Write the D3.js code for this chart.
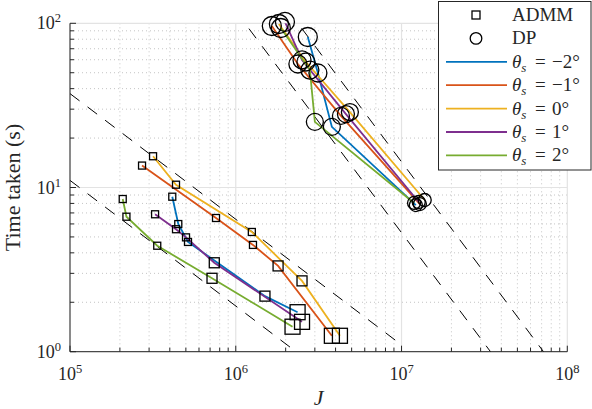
<!DOCTYPE html>
<html>
<head>
<meta charset="utf-8">
<script src="https://cdn.jsdelivr.net/npm/d3@7"></script>
<style>
  body { margin: 0; background: #fff; }
  text { font-family: "Liberation Serif", "DejaVu Serif", serif; fill: #262626; }
</style>
</head>
<body>
<svg width="592" height="409"></svg>
<script>
// ---- data ----
const thetaLabels = ["\u22122\u00b0", "\u22121\u00b0", "0\u00b0", "1\u00b0", "2\u00b0"];
const seriesColors = ["#0072BD", "#D95319", "#EDB120", "#7E2F8E", "#77AC30"];

// ADMM runs (squares), one row per theta
const admmJ = [
    [4.14e5, 4.50e5, 5.15e5, 1.50e6, 2.36e6],
    [2.72e5, 7.60e5, 1.27e6, 1.80e6, 3.80e6],
    [3.17e5, 4.36e5, 1.25e6, 2.51e6, 4.25e6],
    [3.26e5, 4.36e5, 5.01e5, 7.42e5, 2.51e6],
    [2.08e5, 2.19e5, 3.36e5, 7.19e5, 2.20e6]
];
const admmT = [
    [8.79, 5.99, 4.66, 2.18, 1.74],
    [13.6, 6.52, 4.47, 3.33, 1.25],
    [15.5, 10.4, 5.36, 2.70, 1.25],
    [6.87, 5.57, 4.97, 3.48, 1.52],
    [8.51, 6.64, 4.42, 2.80, 1.42]
];

// DP runs (circles)
const dpJ = [
    [2.72e6, 3.13e6, 3.80e6, 1.22e7],
    [1.65e6, 2.37e6, 4.31e6, 1.29e7],
    [1.82e6, 2.65e6, 4.88e6, 1.38e7],
    [1.98e6, 2.51e6, 4.62e6, 1.27e7],
    [1.87e6, 2.80e6, 3.00e6, 1.19e7]
];
const dpT = [
    [82.5, 49.8, 23.4, 7.82],
    [96.3, 56.5, 27.3, 7.93],
    [99.0, 58.1, 28.8, 8.39],
    [102, 59.8, 28.0, 8.16],
    [93.6, 51.9, 25.1, 8.05]
];

// dashed reference slopes (end points)
const refJ = [[1e5, 1e7], [1e5, 1e7], [1e6, 1e8], [1e6, 1e8]];
const refT = [[37.3, 1.10], [11.05, 0.326], [118.8, 0.237], [320.9, 0.640]];

const xTicks = [1e5, 1e6, 1e7, 1e8];
const yTicks = [1, 10, 100];

// marker sizes along each run
const admmSize = [7, 7, 7, 10, 15];
const dpRadius = [9.5, 9, 8.5, 6.5];

// ---- layout ----
const svg = d3.select("svg");
const pLeft = 70, pRight = 567.3, pTop = 23.3, pBottom = 351.7;

const x = d3.scaleLog().domain([1e5, 1e8]).range([pLeft, pRight]);
const y = d3.scaleLog().domain([1, 100]).range([pBottom, pTop]);

svg.append("defs").append("clipPath").attr("id", "plotClip")
    .append("rect")
    .attr("x", pLeft).attr("y", pTop)
    .attr("width", pRight - pLeft).attr("height", pBottom - pTop);

/* ----------- grid ----------- */
const minorX = [], minorY = [];
for (let e = 5; e < 8; e++) for (let k = 2; k <= 9; k++) minorX.push(k * Math.pow(10, e));
for (let e = 0; e < 2; e++) for (let k = 2; k <= 9; k++) minorY.push(k * Math.pow(10, e));

let grid = svg.append("g");
grid.selectAll("line.mx").data(minorX).enter().append("line")
    .attr("x1", d => x(d)).attr("x2", d => x(d))
    .attr("y1", pTop).attr("y2", pBottom)
    .attr("stroke", "#c4c4c4").attr("stroke-width", 1)
    .attr("stroke-dasharray", "1,3");
grid.selectAll("line.my").data(minorY).enter().append("line")
    .attr("y1", d => y(d)).attr("y2", d => y(d))
    .attr("x1", pLeft).attr("x2", pRight)
    .attr("stroke", "#c4c4c4").attr("stroke-width", 1)
    .attr("stroke-dasharray", "1,3");
grid.selectAll("line.gx").data(xTicks).enter().append("line")
    .attr("x1", d => x(d)).attr("x2", d => x(d))
    .attr("y1", pTop).attr("y2", pBottom)
    .attr("stroke", "#e3e3e3").attr("stroke-width", 1.2);
grid.selectAll("line.gy").data(yTicks).enter().append("line")
    .attr("y1", d => y(d)).attr("y2", d => y(d))
    .attr("x1", pLeft).attr("x2", pRight)
    .attr("stroke", "#e3e3e3").attr("stroke-width", 1.2);

/* ----------- dashed reference lines ----------- */
const plot = svg.append("g").attr("clip-path", "url(#plotClip)");

const line = d3.line().x(d => x(d[0])).y(d => y(d[1]));

plot.selectAll("path.ref").data(refJ.map((js, i) => js.map((j, k) => [j, refT[i][k]])))
    .enter().append("path")
    .attr("d", line)
    .attr("fill", "none")
    .attr("stroke", "#000")
    .attr("stroke-width", 1)
    .attr("stroke-dasharray", "12,10");

/* ----------- series lines ----------- */
const admmPts = admmJ.map((js, i) => js.map((j, k) => [j, admmT[i][k], k]));
const dpPts = dpJ.map((js, i) => js.map((j, k) => [j, dpT[i][k], k]));

plot.selectAll("path.admm").data(admmPts).enter().append("path")
    .attr("d", line)
    .attr("fill", "none")
    .attr("stroke", (d, i) => seriesColors[i])
    .attr("stroke-width", 1.8);

plot.selectAll("path.dp").data(dpPts).enter().append("path")
    .attr("d", line)
    .attr("fill", "none")
    .attr("stroke", (d, i) => seriesColors[i])
    .attr("stroke-width", 1.8);

/* ----------- markers ----------- */
plot.selectAll("rect.sq").data(admmPts.flat()).enter().append("rect")
    .attr("x", d => x(d[0]) - admmSize[d[2]] / 2)
    .attr("y", d => y(d[1]) - admmSize[d[2]] / 2)
    .attr("width", d => admmSize[d[2]])
    .attr("height", d => admmSize[d[2]])
    .attr("fill", "none")
    .attr("stroke", "#000")
    .attr("stroke-width", 1.3);

svg.selectAll("circle.dp").data(dpPts.flat()).enter().append("circle")
    .attr("cx", d => x(d[0]))
    .attr("cy", d => y(d[1]))
    .attr("r", d => dpRadius[d[2]])
    .attr("fill", "none")
    .attr("stroke", "#000")
    .attr("stroke-width", 1.3);

/* ----------- axes ----------- */
const ax = svg.append("g").attr("stroke", "#262626").attr("stroke-width", 1);
ax.append("line").attr("x1", pLeft).attr("x2", pLeft).attr("y1", pTop).attr("y2", pBottom);
ax.append("line").attr("x1", pLeft).attr("x2", pRight).attr("y1", pBottom).attr("y2", pBottom);

ax.selectAll("line.tx").data(xTicks.concat(minorX)).enter().append("line")
    .attr("x1", d => x(d)).attr("x2", d => x(d))
    .attr("y1", pBottom).attr("y2", d => pBottom - (xTicks.includes(d) ? 6 : 4));
ax.selectAll("line.ty").data(yTicks.concat(minorY)).enter().append("line")
    .attr("y1", d => y(d)).attr("y2", d => y(d))
    .attr("x1", pLeft).attr("x2", d => pLeft + (yTicks.includes(d) ? 6 : 4));

// tick labels as 10^n
const xl = svg.selectAll("text.xt").data(xTicks).enter().append("text")
    .attr("x", d => x(d))
    .attr("y", pBottom + 28)
    .attr("text-anchor", "middle")
    .attr("font-size", 18);
xl.append("tspan").text("10");
xl.append("tspan").attr("font-size", 12.5).attr("dy", -7).text(d => Math.round(Math.log10(d)));

const yl = svg.selectAll("text.yt").data(yTicks).enter().append("text")
    .attr("x", pLeft - 9)
    .attr("y", d => y(d) + 6)
    .attr("text-anchor", "end")
    .attr("font-size", 18);
yl.append("tspan").text("10");
yl.append("tspan").attr("font-size", 12.5).attr("dy", -7).text(d => Math.round(Math.log10(d)));

svg.append("text")
    .attr("x", (pLeft + pRight) / 2).attr("y", 405)
    .attr("text-anchor", "middle")
    .attr("font-size", 22).attr("font-style", "italic")
    .text("J");

svg.append("text")
    .attr("transform", `translate(20,${(pTop + pBottom) / 2}) rotate(-90)`)
    .attr("text-anchor", "middle")
    .attr("font-size", 22)
    .text("Time taken (s)");

/* ----------- legend ----------- */
const lg = svg.append("g");
lg.append("rect")
    .attr("x", 438.5).attr("y", 1.5).attr("width", 152.5).attr("height", 168.5)
    .attr("fill", "#fff").attr("stroke", "#262626").attr("stroke-width", 1);

const rowY = i => 15 + i * 23.4;

lg.append("rect").attr("x", 472).attr("y", rowY(0) - 4).attr("width", 8).attr("height", 8)
    .attr("fill", "none").attr("stroke", "#000").attr("stroke-width", 1.3);
lg.append("circle").attr("cx", 476).attr("cy", rowY(1)).attr("r", 5.8)
    .attr("fill", "none").attr("stroke", "#000").attr("stroke-width", 1.3);
lg.append("text").attr("x", 512).attr("y", rowY(0) + 6).attr("font-size", 19).text("ADMM");
lg.append("text").attr("x", 512).attr("y", rowY(1) + 6).attr("font-size", 19).text("DP");

thetaLabels.forEach((lab, i) => {
    let yy = rowY(i + 2);
    lg.append("line").attr("x1", 446).attr("x2", 507).attr("y1", yy).attr("y2", yy)
        .attr("stroke", seriesColors[i]).attr("stroke-width", 1.8);
    let t = lg.append("text").attr("x", 512).attr("y", yy + 6).attr("font-size", 19);
    t.append("tspan").attr("font-style", "italic").text("\u03b8");
    t.append("tspan").attr("font-style", "italic").attr("font-size", 13).attr("dy", 4).text("s");
    t.append("tspan").attr("x", 535).attr("dy", -4).text("=");
    t.append("tspan").attr("x", 552).text(lab);
});
</script>
</body>
</html>
